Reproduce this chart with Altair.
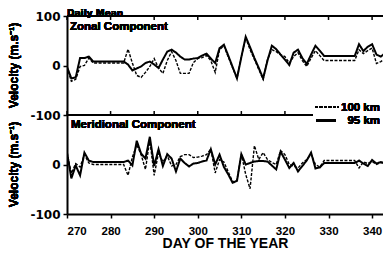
import altair as alt
import pandas as pd

# ---- data ----
days = [270, 271, 272, 273, 274, 275, 276] + list(range(283, 330)) + list(range(336, 344))

zonal_95 = [-3, -26, -24, 15, 15, 18, 8,
            8, 2, -10, -6, -2, 5, 8, 2, -5, 12, 28, 32, 26, 18, 12, 12, 14,
            15, 20, 24, 14, 5, 35, 42, 20, -3, -26, 17, 58, 37, 15, -5, -26,
            10, 40, 33, 22, 12, 1, 26, 32, 15, 3, 22, 40, 30, 19,
            19, 43, 29, 38, 43, 22, 18, 25]
zonal_100 = [-3, -32, -28, -2, 0, 15, 5,
             5, 33, 5, -20, -24, -14, -2, 14, -5, -16, 10, 28, 10, -16, -16, -16, 6,
             14, 16, 20, 10, -14, 32, 40, 17, -5, -26, 18, 56, 32, 12, -8, -28,
             12, 32, 28, 22, 18, 5, 18, 26, 10, -2, 15, 30, 20, 10,
             10, 32, 24, 30, 35, 4, 8, 14]
merid_95 = [24, -28, -2, -22, 24, 8, 5,
            5, 8, -2, 48, 22, 12, 56, -3, 31, -3, 21, 12, -14, 12, 3, -4, 2,
            3, 6, 8, 31, 0, 20, -5, -20, -37, -33, 21, 0, 3, 6, 7, 7,
            6, -2, -10, 26, 10, -7, 3, -14, -3, 8, 24, -8, -6, 3,
            3, 8, 2, -3, 9, 2, 5, 3]
merid_100 = [24, -18, 2, -5, 20, 3, 0,
             0, -22, 15, 40, 20, -10, 50, -22, 24, 5, 18, -3, 0, 16, 20, 20, 14,
             15, 17, 20, 31, -17, 10, 5, -15, -35, -32, 21, -20, -49, 38, 10, 24,
             10, 4, 0, 28, 20, 0, -3, -7, 3, 10, 21, 0, -5, 8,
             8, -7, 5, 2, 6, 0, 4, 2]

series_names = ["100 km", "95 km"]
tick_days = [270, 280, 290, 300, 310, 320, 330, 340]
y_ticks = list(range(-300, 101, 25))

rows = []
for comp, s95, s100 in [("Zonal", zonal_95, zonal_100), ("Meridional", merid_95, merid_100)]:
    for d, v in zip(days, s100):
        rows.append({"day": d, "velocity": v, "height": "100 km", "component": comp})
    for d, v in zip(days, s95):
        rows.append({"day": d, "velocity": v, "height": "95 km", "component": comp})
df = pd.DataFrame(rows)
ticks_df = pd.DataFrame({"day": tick_days})

FONT = "Liberation Sans"
WIDE = "DejaVu Sans"
XTITLE = "DAY OF THE YEAR"

xscale = alt.Scale(domain=[270, 342.5], nice=False, zero=False)
yscale = alt.Scale(domain=[-300, 100], nice=False, zero=False)

lines = alt.Chart(df).transform_calculate(
    yplot="datum.component == 'Meridional' ? datum.velocity - 200 : datum.velocity",
    key="datum.component + datum.height",
).mark_line(color="black", clip=True).encode(
    x=alt.X("day:Q", scale=xscale, title=XTITLE,
            axis=alt.Axis(values=tick_days, format="d", labelPadding=7, titlePadding=0,
                          labelFont=FONT, labelFontSize=11.5)),
    y=alt.Y("yplot:Q", scale=yscale, title=None,
            axis=alt.Axis(values=y_ticks, labelPadding=3, labelFont=WIDE, labelFontSize=12,
                          labelExpr="datum.value % 50 != 0 ? '' : (datum.value >= -100 ? '' + datum.value : '' + (datum.value + 200))")),
    detail="key:N",
    strokeDash=alt.StrokeDash("height:N", scale=alt.Scale(domain=series_names, range=[[3, 1.5], [1, 0]]), legend=None),
    strokeWidth=alt.StrokeWidth("height:N", scale=alt.Scale(domain=series_names, range=[1.4, 2.0]), legend=None),
)

top_border = alt.Chart(ticks_df).mark_rule(color="black", strokeWidth=2).encode(y=alt.datum(100))
mid_border = alt.Chart(ticks_df).mark_rule(color="black", strokeWidth=2).encode(y=alt.datum(-100))

top_ticks = alt.Chart(ticks_df).mark_rule(color="black", strokeWidth=1.5).encode(
    x=alt.X("day:Q", title=XTITLE), y=alt.datum(100), y2=alt.datum(92))
mid_ticks = alt.Chart(ticks_df).mark_rule(color="black", strokeWidth=1.5).encode(
    x=alt.X("day:Q", title=XTITLE), y=alt.datum(-100), y2=alt.datum(-92))

def label(text, x, y, size=11.5, align="left", font=FONT):
    return alt.Chart(ticks_df).mark_text(
        text=text, font=font, fontWeight="bold", fontSize=size, color="black",
        align=align, baseline="alphabetic").encode(x=alt.value(x), y=alt.value(y))

daily = label("Daily Mean", 0, 0.4, size=9, font=WIDE)
zonal_lbl = label("Zonal Component", 3, 14)
merid_lbl = label("Meridional Component", 4, 112.3)

ytitle = "Velocity (m.s\u207b\u00b9)"
ytitle_top = alt.Chart(ticks_df).mark_text(
    text=ytitle, font=FONT, fontWeight="bold", fontSize=12, color="black",
    angle=270, align="center", baseline="middle").encode(x=alt.value(-53), y=alt.datum(0))
ytitle_bot = alt.Chart(ticks_df).mark_text(
    text=ytitle, font=FONT, fontWeight="bold", fontSize=12, color="black",
    angle=270, align="center", baseline="middle").encode(x=alt.value(-53), y=alt.datum(-200))

# legend (kept inside the 375px-wide drawing)
leg_bg = alt.Chart(ticks_df).mark_rect(fill="white").encode(
    x=alt.value(246), x2=alt.value(320), y=alt.value(84), y2=alt.value(112))
leg_line1 = alt.Chart(ticks_df).mark_rule(color="black", strokeWidth=1.4, strokeDash=[3, 1.5]).encode(
    x=alt.value(248), x2=alt.value(272), y=alt.value(91))
leg_line2 = alt.Chart(ticks_df).mark_rule(color="black", strokeWidth=2).encode(
    x=alt.value(249), x2=alt.value(269), y=alt.value(104.5))
leg_t1 = label(series_names[0], 313, 94.7, align="right")
leg_t2 = label(series_names[1], 313, 108, align="right")

chart = alt.layer(
    lines, top_border, mid_border, top_ticks, mid_ticks,
    daily, zonal_lbl, merid_lbl, ytitle_top, ytitle_bot,
    leg_bg, leg_line1, leg_line2, leg_t1, leg_t2,
).properties(
    width=316, height=198,
    autosize=alt.AutoSizeParams(type="none"),
    padding={"left": 59, "top": 8, "right": 0, "bottom": 37},
).configure_view(stroke=None).configure_axis(
    grid=False, domainColor="black", domainWidth=2, tickColor="black", tickWidth=1.5, tickSize=4,
    labelColor="black", labelFont=FONT, labelFontWeight="bold", labelFontSize=11,
    titleColor="black", titleFont=FONT, titleFontWeight="bold", titleFontSize=14,
)

chart.save("out.html", embed_options={"renderer": "svg", "actions": False})
